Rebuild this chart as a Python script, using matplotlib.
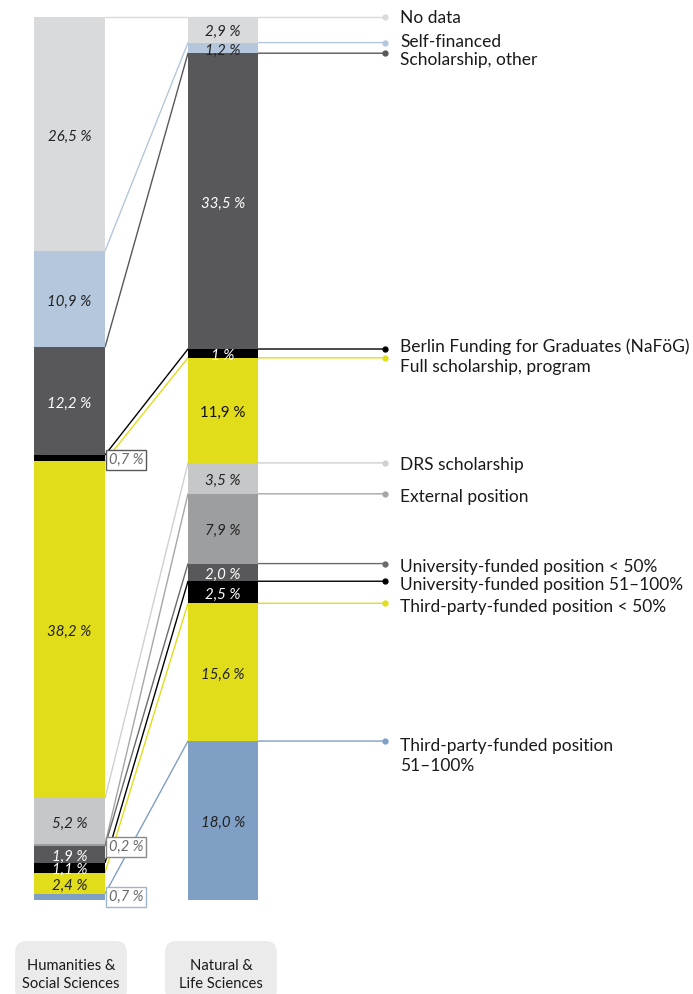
import matplotlib
matplotlib.use("Agg")
import matplotlib.pyplot as plt
from matplotlib.patches import FancyBboxPatch
import numpy as np

plt.rcParams['font.family'] = ['Lato', 'DejaVu Sans']

categories = ["Humanities &\nSocial Sciences", "Natural &\nLife Sciences"]
funding_types = [
    "No data", "Self-financed", "Scholarship, other",
    "Berlin Funding for Graduates (NaFöG)", "Full scholarship, program",
    "DRS scholarship", "External position",
    "University-funded position < 50%", "University-funded position 51–100%",
    "Third-party-funded position < 50%", "Third-party-funded position\n51–100%",
]
humanities = [26.5, 10.9, 12.2, 0.7, 38.2, 5.2, 0.2, 1.9, 1.1, 2.4, 0.7]
natural = [2.9, 1.2, 33.5, 1.0, 11.9, 3.5, 7.9, 2.0, 2.5, 15.6, 18.0]
value_labels_h = ["26,5 %", "10,9 %", "12,2 %", "0,7 %", "38,2 %", "5,2 %", "0,2 %",
                  "1,9 %", "1,1 %", "2,4 %", "0,7 %"]
value_labels_n = ["2,9 %", "1,2 %", "33,5 %", "1 %", "11,9 %", "3,5 %", "7,9 %",
                  "2,0 %", "2,5 %", "15,6 %", "18,0 %"]

# styles
seg_colors = ["#d9dadc", "#b4c7dd", "#58585a", "#000000", "#e2dd1b",
              "#c6c7c8", "#9d9e9f", "#58585a", "#000000", "#e2dd1b", "#7f9fc5"]
line_colors = ["#d9dadc", "#b4c7dd", "#58585a", "#000000", "#e2dd1b",
               "#cfd0d1", "#a5a6a7", "#6a6a6c", "#000000", "#e2dd1b", "#7f9fc5"]
text_colors_h = ["#222222", "#222222", "white", "#777777", "#222222", "#222222", "#777777",
                 "white", "white", "#222222", "#777777"]
text_colors_n = ["#222222", "#222222", "white", "white", "#111111", "#222222", "#222222",
                 "white", "white", "#222222", "#222222"]
italic_n = [True, True, True, True, False, True, True, True, True, True, True]
boxed_h = [False, False, False, True, False, False, True, False, False, False, True]
box_edge_h = {3: "#58585a", 6: "#8a8a8a", 10: "#9fb6cf"}
label_text_offset_px = [1, -1, 7, -2, 9, 2, 3, 3, 4, 4, 15]
value_text_shift_px = 2.5

W, H = 693, 994
fig = plt.figure(figsize=(W / 100, H / 100), dpi=100)
ax = fig.add_axes([0, 0, 1, 1])
top_px, bot_px = 17, 900
pxp = (bot_px - top_px) / 100.0  # pixels per percent
ax.set_xlim(0, W)
ax.set_ylim((H - top_px) / pxp, -top_px / pxp)
ax.axis('off')

def px2pct(p):
    return (p - top_px) / pxp

left_x0, left_x1 = 34, 105
right_x0, right_x1 = 188, 258
lw_bar = left_x1 - left_x0
rw_bar = right_x1 - right_x0

hb = np.concatenate([[0], np.cumsum(humanities)[:-1]])
nb = np.concatenate([[0], np.cumsum(natural)[:-1]])
vshift = value_text_shift_px / pxp

# connecting lines (drawn first)
for i in range(len(funding_types)):
    ax.plot([left_x1, right_x0, 385], [hb[i], nb[i], nb[i]],
            color=line_colors[i], lw=1.0, zorder=1, solid_capstyle='butt')
    ax.plot([385], [nb[i]], marker='o', ms=3.5, color=line_colors[i], zorder=2)
    ax.text(400, nb[i] + label_text_offset_px[i] / pxp, funding_types[i],
            fontsize=12.5, color="#1a1a1a", va='center', ha='left',
            linespacing=1.3)

ax.bar([(left_x0 + left_x1) / 2] * len(humanities), humanities, bottom=hb,
       width=lw_bar, color=seg_colors, zorder=3, linewidth=0)
ax.bar([(right_x0 + right_x1) / 2] * len(natural), natural, bottom=nb,
       width=rw_bar, color=seg_colors, zorder=3, linewidth=0)

# value labels left
boxed_pos_px = {3: 460, 6: 847, 10: 897}
for i, v in enumerate(humanities):
    if boxed_h[i]:
        ax.text(126, px2pct(boxed_pos_px[i]), value_labels_h[i], fontsize=10.5,
                style='italic', color="#6a6a6a", ha='center', va='center', zorder=6,
                bbox=dict(boxstyle='square,pad=0.18', fc='white',
                          ec=box_edge_h[i], lw=1.0))
    else:
        ax.text((left_x0 + left_x1) / 2, hb[i] + v / 2 + vshift, value_labels_h[i],
                fontsize=10.8, style='italic', color=text_colors_h[i],
                ha='center', va='center', zorder=5)

for i, v in enumerate(natural):
    ax.text((right_x0 + right_x1) / 2, nb[i] + v / 2 + vshift, value_labels_n[i],
            fontsize=10.8, style='italic' if italic_n[i] else 'normal',
            color=text_colors_n[i], ha='center', va='center', zorder=5)

# category boxes
for cx, cat in zip([71, 221], categories):
    y0 = px2pct(941)
    box = FancyBboxPatch((cx - 56, y0), 112, 60 / pxp,
                         boxstyle="round,pad=0,rounding_size=12",
                         fc="#ebebeb", ec='none', zorder=1,
                         mutation_aspect=1 / pxp)
    ax.add_patch(box)
    ax.text(cx, px2pct(975), cat, fontsize=10.6, ha='center', va='center',
            color="#1a1a1a", linespacing=1.45)

fig.savefig("out.png", dpi=100)
